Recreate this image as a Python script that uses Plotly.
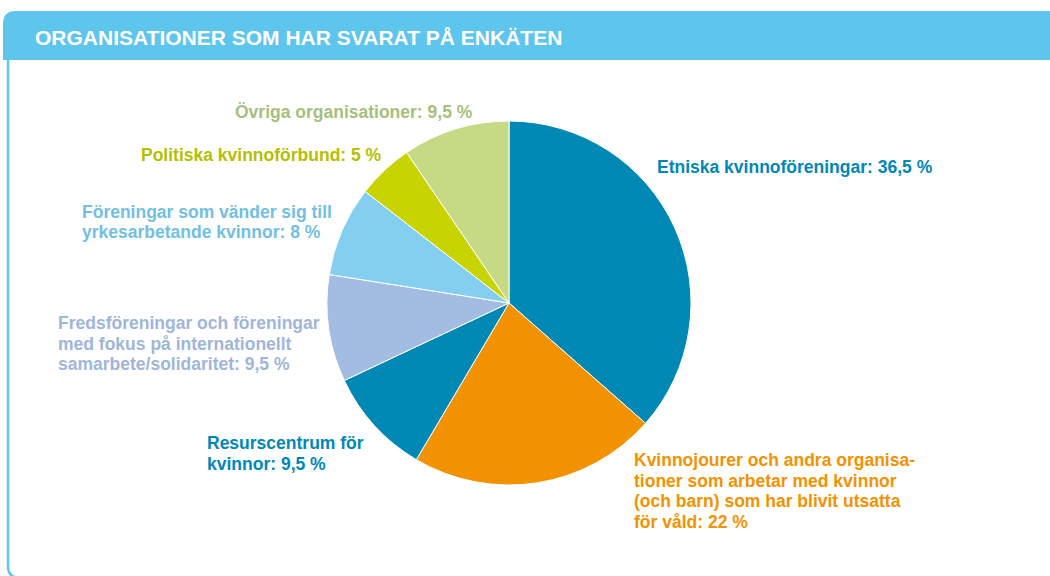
import plotly.graph_objects as go

W, H = 1050, 576

categories = [
    "Etniska kvinnoföreningar",
    "Kvinnojourer och andra organisationer som arbetar med kvinnor (och barn) som har blivit utsatta för våld",
    "Resurscentrum för kvinnor",
    "Fredsföreningar och föreningar med fokus på internationellt samarbete/solidaritet",
    "Föreningar som vänder sig till yrkesarbetande kvinnor",
    "Politiska kvinnoförbund",
    "Övriga organisationer",
]
values = [36.5, 22, 9.5, 9.5, 8, 5, 9.5]
label_lines = [
    ["Etniska kvinnoföreningar: 36,5 %"],
    ["Kvinnojourer och andra organisa-", "tioner som arbetar med kvinnor",
     "(och barn) som har blivit utsatta", "för våld: 22 %"],
    ["Resurscentrum för", "kvinnor: 9,5 %"],
    ["Fredsföreningar och föreningar", "med fokus på internationellt",
     "samarbete/solidaritet: 9,5 %"],
    ["Föreningar som vänder sig till", "yrkesarbetande kvinnor: 8 %"],
    ["Politiska kvinnoförbund: 5 %"],
    ["Övriga organisationer: 9,5 %"],
]
title_text = "ORGANISATIONER SOM HAR SVARAT PÅ ENKÄTEN"

slice_colors = ["#0088b5", "#f39200", "#0088b5", "#a3bde2", "#84cff0", "#c8d400", "#c6d985"]
text_colors = ["#0088b5", "#f39200", "#0088b5", "#9fb6d8", "#72bfe2", "#b3c000", "#a6bf7c"]
# first-line anchor positions in pixels (left x, middle y)
label_pos = [(655, 167), (632, 460), (205, 443), (56, 323), (80, 212), (139, 155), (233, 112)]
LINE_H = 20.5

def px(x):
    return x / W

def py(y):
    return 1 - y / H

cx, cy, r = 509, 303, 182

fig = go.Figure()
fig.add_trace(go.Pie(
    labels=categories,
    values=values,
    sort=False,
    direction="clockwise",
    rotation=0,
    marker=dict(colors=slice_colors, line=dict(color="white", width=1)),
    textinfo="none",
    hoverinfo="label+percent",
    showlegend=False,
    domain=dict(x=[px(cx - r), px(cx + r)], y=[py(cy + r), py(cy - r)]),
))

FONT = "Liberation Sans, Arial, Helvetica, sans-serif"
annotations = []
for lines, col, (lx, ly) in zip(label_lines, text_colors, label_pos):
    for i, line in enumerate(lines):
        annotations.append(dict(
            text=f"<b>{line}</b>", x=px(lx), y=py(ly + i * LINE_H), xref="paper", yref="paper",
            xanchor="left", yanchor="middle", align="left", showarrow=False,
            font=dict(family=FONT, size=17.5, color=col),
        ))
annotations.append(dict(
    text=f"<b>{title_text}</b>", x=px(33), y=py(37), xref="paper", yref="paper",
    xanchor="left", yanchor="middle", showarrow=False,
    font=dict(family=FONT, size=21, color="white"),
))

def P(x, y):
    return f"{px(x):.5f},{py(y):.5f}"

header_path = f"M {P(3, 60)} L {P(3, 24)} Q {P(3, 11)} {P(16, 11)} L {P(1052, 11)} L {P(1052, 60)} Z"
border_path = f"M {P(8, 60)} L {P(8, 566)} Q {P(8, 578)} {P(20, 578)}"

shapes = [
    dict(type="path", path=header_path, xref="paper", yref="paper",
         fillcolor="#5ec5ec", line=dict(width=0), layer="below"),
    dict(type="path", path=border_path, xref="paper", yref="paper",
         line=dict(color="#62c6ec", width=2.5), layer="below"),
]

fig.update_layout(
    width=W, height=H,
    margin=dict(l=0, r=0, t=0, b=0),
    paper_bgcolor="white", plot_bgcolor="white",
    annotations=annotations, shapes=shapes,
)

fig.write_html(
    "out.html",
    config={"displayModeBar": False},
    post_script="document.body.style.margin='0';document.body.style.overflow='hidden';",
)
